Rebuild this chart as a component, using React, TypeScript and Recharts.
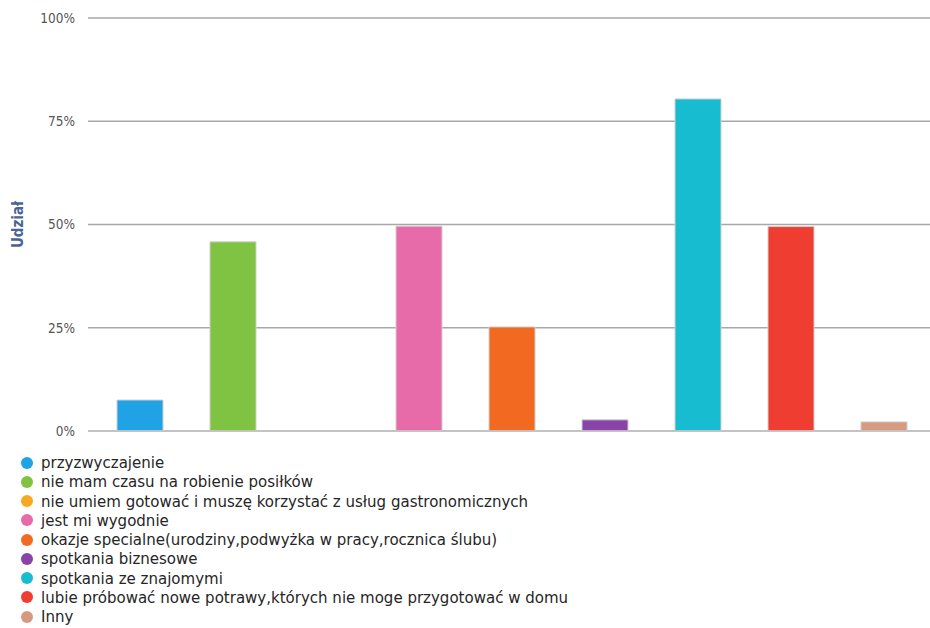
import React from 'react'
import { BarChart, Bar, XAxis, YAxis, CartesianGrid, Cell, Label } from 'recharts'

const categories = [
  'przyzwyczajenie',
  'nie mam czasu na robienie posiłków',
  'nie umiem gotować i muszę korzystać z usług gastronomicznych',
  'jest mi wygodnie',
  'okazje specialne(urodziny,podwyżka w pracy,rocznica ślubu)',
  'spotkania biznesowe',
  'spotkania ze znajomymi',
  'lubie próbować nowe potrawy,których nie moge przygotować w domu',
  'Inny',
]

// share of answers, in percent
const shares = [7.5, 45.8, 0, 49.6, 25.2, 2.7, 80.4, 49.5, 2.2]

const colors = [
  '#20a3e4',
  '#80c342',
  '#f6a821',
  '#e86ba9',
  '#f26a22',
  '#8a43a8',
  '#18bcd0',
  '#ef3d32',
  '#d69a80',
]

const yTicks = [0, 25, 50, 75, 100]

const data = categories.map((name, i) => ({ name, value: shares[i] }))

const FONT = '"DejaVu Sans Condensed", "DejaVu Sans", sans-serif'

function LegendList() {
  return (
    <div
      style={{
        position: 'absolute',
        left: 21,
        top: 453,
        fontFamily: FONT,
        fontSize: 16.7,
        color: '#262626',
        lineHeight: '19.25px',
      }}
    >
      {categories.map((c, i) => (
        <div key={c} style={{ display: 'flex', alignItems: 'center', whiteSpace: 'nowrap', height: 19.25 }}>
          <span
            style={{
              width: 12,
              height: 12,
              borderRadius: 6,
              background: colors[i],
              marginRight: 8,
              display: 'inline-block',
              flexShrink: 0,
            }}
          />
          {c}
        </div>
      ))}
    </div>
  )
}

export default function App() {
  return (
    <div style={{ position: 'absolute', left: 0, top: 0, width: 930, height: 628, background: '#fff' }}>
      <BarChart
        width={930}
        height={628}
        data={data}
        margin={{ top: 18, right: 0, bottom: 187, left: 0 }}
      >
        <CartesianGrid horizontal vertical={false} stroke="#a8a8a8" strokeWidth={1.3} />
        <XAxis
          dataKey="name"
          tick={false}
          tickSize={6}
          height={10}
          padding={{ left: 5, right: 0 }}
          axisLine={{ stroke: '#c4c4c4', strokeWidth: 1.5 }}
          tickLine={{ stroke: '#b8b8b8' }}
        />
        <YAxis
          domain={[0, 100]}
          ticks={yTicks}
          width={88}
          axisLine={false}
          tickLine={false}
          tickSize={0}
          tickMargin={13}
          tickFormatter={(v) => `${v}%`}
          tick={{ fontFamily: FONT, fontSize: 13.5, fill: '#555' }}
        >
          <Label
            content={({ viewBox }: any) => {
              const cy = viewBox.y + viewBox.height / 2
              return (
                <text
                  x={18}
                  y={cy}
                  transform={`rotate(-90 18 ${cy})`}
                  textAnchor="middle"
                  dominantBaseline="central"
                  fontFamily={FONT}
                  fontWeight="bold"
                  fontSize={15}
                  fill="#4a6496"
                >
                  Udział
                </text>
              )
            }}
          />
        </YAxis>
        <Bar dataKey="value" barSize={46} stroke="#cfcfcf" strokeWidth={1} isAnimationActive={false}>
          {data.map((d, i) => (
            <Cell key={d.name} fill={colors[i]} />
          ))}
        </Bar>
      </BarChart>
      <LegendList />
    </div>
  )
}
